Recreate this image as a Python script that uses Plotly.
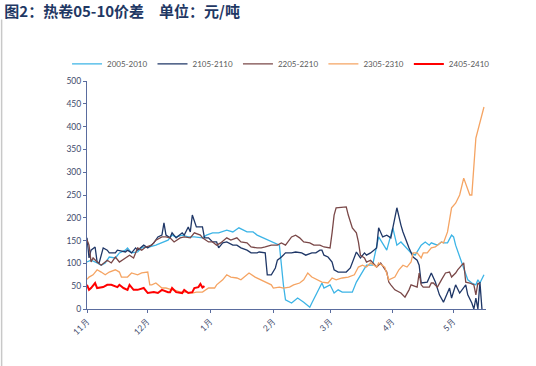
import plotly.graph_objects as go
import pandas as pd

BASE = "2022-11-01"
month_ticks = ["2022-11-01", "2022-12-01", "2023-01-01", "2023-02-01", "2023-03-01", "2023-04-01", "2023-05-01"]
month_labels = ["11月", "12月", "1月", "2月", "3月", "4月", "5月"]

# day offsets from Nov 1 and values (元/吨)
s2005_days = [0, 2, 5, 7, 9, 11, 14, 16, 19, 20, 22, 25, 27, 31, 34, 37, 40, 42, 44, 47, 50, 53, 57, 59, 62, 65, 69, 72, 75, 79, 82, 84, 93, 95, 97, 98, 101, 104, 107, 110, 111, 113, 116, 117, 120, 122, 124, 126, 131, 133, 135, 138, 141, 143, 144, 148, 150, 151, 153, 155, 160, 162, 165, 167, 169, 170, 173, 175, 176, 178, 180, 181, 182, 185, 187, 188, 190, 192, 193, 194, 196]
s2005_vals = [103, 107, 101, 96, 101, 114, 112, 123, 129, 134, 123, 125, 134, 136, 140, 145, 151, 162, 158, 162, 158, 158, 156, 162, 167, 167, 173, 169, 178, 169, 169, 162, 145, 140, 52, 20, 13, 24, 15, 4, 13, 31, 57, 46, 53, 35, 42, 37, 37, 59, 75, 96, 96, 140, 158, 129, 162, 178, 140, 147, 123, 118, 140, 147, 140, 145, 140, 147, 145, 145, 162, 158, 140, 103, 81, 64, 57, 53, 64, 57, 75]

s2105_days = [0, 1, 2, 4, 5, 6, 8, 10, 11, 14, 15, 19, 20, 22, 24, 25, 28, 30, 33, 35, 37, 38, 39, 41, 42, 44, 47, 48, 50, 51, 52, 53, 54, 57, 58, 60, 62, 64, 65, 67, 69, 72, 74, 76, 79, 81, 84, 85, 88, 89, 91, 93, 94, 96, 98, 101, 103, 106, 108, 111, 113, 115, 116, 117, 119, 121, 122, 124, 128, 130, 132, 133, 135, 137, 138, 140, 143, 144, 146, 148, 150, 153, 155, 156, 159, 161, 163, 164, 165, 168, 170, 172, 174, 176, 179, 180, 182, 184, 187, 188, 190, 191, 192, 193, 194, 195]
s2105_vals = [156, 112, 129, 136, 103, 101, 134, 129, 123, 123, 129, 125, 129, 123, 134, 129, 140, 134, 145, 158, 162, 189, 162, 156, 167, 156, 167, 162, 180, 169, 206, 191, 180, 180, 156, 156, 147, 147, 134, 145, 147, 140, 140, 134, 129, 123, 123, 125, 123, 75, 75, 90, 107, 114, 123, 123, 125, 123, 118, 123, 123, 129, 129, 118, 114, 103, 86, 81, 81, 90, 112, 125, 112, 123, 118, 123, 134, 178, 158, 162, 156, 222, 184, 169, 134, 114, 107, 96, 57, 59, 79, 59, 31, 15, 46, 24, 53, 35, 53, 31, 13, 0, 24, 0, 59, 0]

s2205_days = [0, 1, 2, 3, 5, 7, 10, 12, 14, 16, 19, 21, 23, 25, 27, 29, 32, 34, 37, 39, 41, 43, 46, 48, 51, 53, 56, 57, 60, 62, 64, 66, 69, 71, 74, 76, 79, 81, 84, 86, 88, 91, 94, 96, 98, 100, 101, 103, 105, 107, 110, 112, 115, 117, 120, 121, 122, 123, 126, 128, 129, 131, 133, 134, 135, 137, 138, 140, 143, 145, 148, 149, 150, 152, 155, 157, 159, 160, 163, 164, 165, 166, 169, 170, 171, 173, 175, 177, 179, 180, 182, 183, 186, 187, 189, 191, 192, 193, 194]
s2205_vals = [152, 140, 103, 112, 103, 96, 107, 101, 114, 103, 112, 118, 112, 134, 129, 136, 140, 151, 158, 158, 156, 147, 156, 158, 156, 167, 162, 156, 147, 147, 140, 145, 156, 151, 156, 147, 145, 136, 134, 134, 136, 140, 140, 145, 140, 151, 158, 162, 156, 147, 145, 140, 140, 136, 134, 167, 206, 222, 224, 224, 206, 178, 167, 147, 118, 112, 103, 107, 92, 101, 81, 59, 53, 42, 35, 26, 42, 53, 48, 79, 53, 48, 48, 57, 57, 48, 64, 79, 81, 70, 79, 86, 101, 59, 57, 53, 31, 57, 53]

s2305_days = [0, 1, 3, 5, 7, 9, 11, 14, 16, 17, 20, 22, 25, 27, 30, 31, 32, 34, 37, 39, 42, 43, 46, 49, 52, 54, 57, 60, 63, 64, 67, 69, 71, 74, 76, 79, 80, 83, 84, 91, 92, 95, 97, 100, 102, 105, 107, 109, 111, 114, 116, 119, 121, 123, 126, 129, 132, 134, 136, 138, 140, 143, 144, 147, 148, 149, 152, 154, 156, 158, 160, 161, 163, 165, 166, 168, 170, 172, 175, 176, 178, 180, 182, 184, 186, 189, 190, 192, 196]
s2305_vals = [65, 70, 75, 86, 81, 75, 81, 86, 81, 70, 70, 79, 75, 79, 81, 53, 53, 57, 46, 46, 42, 42, 37, 37, 35, 37, 37, 46, 46, 53, 64, 75, 70, 68, 64, 75, 79, 70, 68, 53, 46, 48, 46, 48, 53, 57, 64, 79, 70, 64, 59, 57, 68, 64, 68, 70, 75, 92, 96, 92, 101, 92, 101, 92, 75, 64, 70, 86, 96, 92, 103, 123, 123, 112, 123, 123, 134, 136, 147, 145, 169, 222, 232, 250, 287, 250, 250, 375, 443]

s2405_days = [0, 1, 2, 4, 5, 8, 10, 12, 15, 16, 18, 20, 21, 23, 25, 28, 30, 33, 35, 37, 40, 41, 42, 44, 47, 48, 50, 52, 53, 55, 56, 57, 58]
s2405_vals = [53, 42, 46, 57, 46, 48, 53, 53, 48, 53, 46, 42, 53, 42, 42, 46, 35, 37, 35, 42, 37, 37, 46, 37, 35, 42, 35, 37, 46, 48, 55, 47, 50]

series = [
    ("2005-2010", s2005_days, s2005_vals, "#3CB4E6", 1.3),
    ("2105-2110", s2105_days, s2105_vals, "#1F3767", 1.3),
    ("2205-2210", s2205_days, s2205_vals, "#7A4848", 1.3),
    ("2305-2310", s2305_days, s2305_vals, "#F5A463", 1.3),
    ("2405-2410", s2405_days, s2405_vals, "#FF0000", 2.0),
]

base = pd.Timestamp(BASE)
fig = go.Figure()
for name, days, vals, color, w in series:
    dates = base + pd.to_timedelta(days, unit="D")
    fig.add_trace(go.Scatter(x=dates, y=vals, mode="lines", name=name,
                             line=dict(color=color, width=w)))

axis_col = "#5A6C9E"
tick_font = dict(family="Lato, Liberation Sans, sans-serif", size=8.5, color="#3E4A6B")

fig.update_layout(
    width=536, height=366,
    margin=dict(l=87, r=50, t=81, b=57),
    paper_bgcolor="white", plot_bgcolor="white",
    title=dict(text="<b>图2：热卷05-10价差　单位：元/吨</b>", xref="container", yref="container",
               x=0.008, y=0.967, xanchor="left", yanchor="middle",
               font=dict(family="Noto Sans CJK SC", size=15, color="#1F3864")),
    legend=dict(orientation="h", x=-0.05, y=1.075, xanchor="left", yanchor="middle",
                font=dict(family="Lato, Liberation Sans, sans-serif", size=8, color="#595959"),
                itemwidth=30, tracegroupgap=0, bgcolor="rgba(0,0,0,0)"),
    showlegend=True,
)
fig.update_xaxes(type="date", range=["2022-11-01", "2023-05-17"],
                 tickvals=month_ticks, ticktext=month_labels, tickangle=-45,
                 showgrid=False, zeroline=False, showline=True, linecolor=axis_col, linewidth=1.2,
                 ticks="outside", ticklen=3, tickcolor=axis_col, tickfont=tick_font)
fig.update_yaxes(range=[0, 500], dtick=50, showgrid=False, zeroline=False,
                 showline=True, linecolor=axis_col, linewidth=1.2,
                 ticks="outside", ticklen=3, tickcolor=axis_col, tickfont=tick_font)
fig.add_shape(type="line", xref="paper", yref="paper", x0=-0.214, x1=-0.214, y0=-0.25, y1=1.27,
              line=dict(color="#C8C8C8", width=1.5))

fig.write_html("out.html", config={"displayModeBar": False},
               post_script="document.body.style.margin='0';document.body.style.overflow='hidden';")
